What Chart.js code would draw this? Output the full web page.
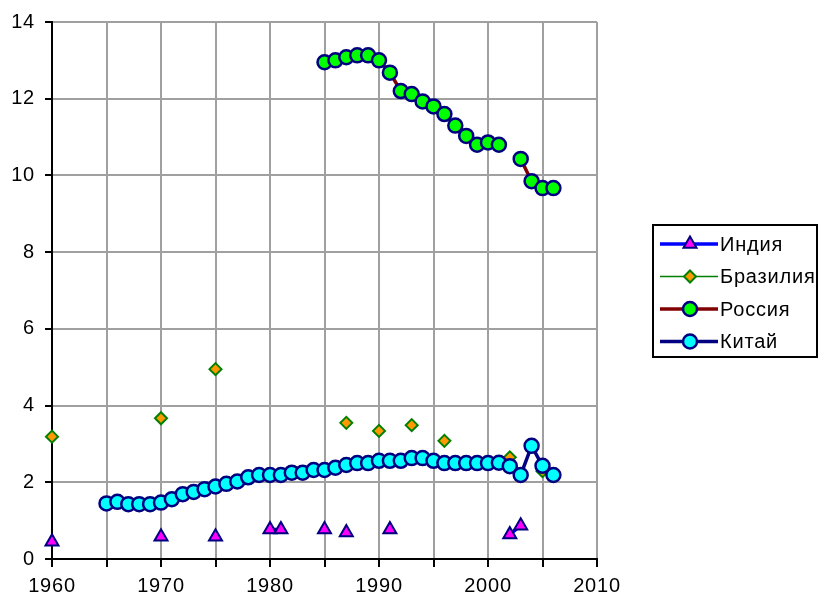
<!DOCTYPE html>
<html>
<head>
<meta charset="utf-8">
<script src="https://cdn.jsdelivr.net/npm/chart.js@4.4.1/dist/chart.umd.min.js"></script>
<style>
  body { margin: 0; background: #fff; }
  canvas { display: block; }
</style>
</head>
<body>
<canvas id="chart" width="820" height="596"></canvas>
<script>
// Data
const seriesNames = ['Индия', 'Бразилия', 'Россия', 'Китай'];

const indiaYears = [1960, 1970, 1975, 1980, 1981, 1985, 1987, 1991, 2002, 2003];
const indiaValues = [0.45, 0.58, 0.58, 0.77, 0.77, 0.77, 0.69, 0.77, 0.64, 0.87];

const brazilYears = [1960, 1970, 1975, 1987, 1990, 1993, 1996, 2002, 2005];
const brazilValues = [3.19, 3.67, 4.95, 3.55, 3.34, 3.49, 3.08, 2.65, 2.29];

const russiaYears = [1985, 1986, 1987, 1988, 1989, 1990, 1991, 1992, 1993, 1994, 1995,
  1996, 1997, 1998, 1999, 2000, 2001, 2003, 2004, 2005, 2006];
const russiaValues = [12.95, 13.0, 13.08, 13.13, 13.13, 13.0, 12.68, 12.2, 12.12, 11.93, 11.8,
  11.6, 11.3, 11.03, 10.8, 10.86, 10.8, 10.43, 9.85, 9.67, 9.67];

const chinaYears = [1965, 1966, 1967, 1968, 1969, 1970, 1971, 1972, 1973, 1974, 1975,
  1976, 1977, 1978, 1979, 1980, 1981, 1982, 1983, 1984, 1985, 1986, 1987, 1988, 1989,
  1990, 1991, 1992, 1993, 1994, 1995, 1996, 1997, 1998, 1999, 2000, 2001, 2002, 2003,
  2004, 2005, 2006];
const chinaValues = [1.45, 1.49, 1.43, 1.43, 1.43, 1.47, 1.56, 1.69, 1.75, 1.82, 1.89,
  1.96, 2.02, 2.13, 2.19, 2.19, 2.19, 2.25, 2.25, 2.32, 2.32, 2.38, 2.45, 2.5, 2.5,
  2.56, 2.56, 2.56, 2.63, 2.63, 2.56, 2.5, 2.5, 2.5, 2.5, 2.5, 2.51, 2.42, 2.19,
  2.95, 2.43, 2.19];

const xTicks = { min: 1960, max: 2010, step: 5, labelEvery: 10 };
const yTicks = { min: 0, max: 14, step: 2 };

const FONT = '"Liberation Sans", Arial, sans-serif';

// years that are not next to each other get a null point so no line joins them
function toPoints(years, values) {
  const pts = [];
  years.forEach((yr, i) => {
    if (i > 0 && yr - years[i - 1] > 1) pts.push({ x: yr - 0.5, y: null });
    pts.push({ x: yr, y: values[i] });
  });
  return pts;
}

// the original's text is a bit spaced out
const spacedText = {
  id: 'spacedText',
  beforeDraw(chart) { chart.ctx.letterSpacing = '0.8px'; }
};

// legend with a line sample and marker, like the original
const sampleLegend = {
  id: 'sampleLegend',
  afterDraw(chart) {
    const ctx = chart.ctx;
    ctx.save();
    ctx.strokeStyle = '#000';
    ctx.lineWidth = 2;
    ctx.strokeRect(653, 225, 164, 132);
    chart.data.datasets.forEach((ds, i) => {
      const y = 244 + i * 32.5;
      ctx.beginPath();
      ctx.strokeStyle = ds.borderColor;
      ctx.lineWidth = ds.borderWidth;
      ctx.moveTo(660, y);
      ctx.lineTo(718, y);
      ctx.stroke();
      drawMarker(ctx, ds.pointStyle, 690, y, ds.pointRadius, ds.pointBackgroundColor,
        ds.pointBorderColor, ds.pointBorderWidth);
      ctx.fillStyle = '#000';
      ctx.font = '20px ' + FONT;
      ctx.textBaseline = 'middle';
      ctx.textAlign = 'left';
      ctx.fillText(ds.label, 720, y + 1);
    });
    ctx.restore();
  }
};

function drawMarker(ctx, style, x, y, r, fill, stroke, bw) {
  ctx.beginPath();
  if (style === 'triangle') {
    ctx.moveTo(x, y - r);
    ctx.lineTo(x + r * 0.866, y + r * 0.5);
    ctx.lineTo(x - r * 0.866, y + r * 0.5);
    ctx.closePath();
  } else if (style === 'rectRot') {
    ctx.moveTo(x, y - r);
    ctx.lineTo(x + r, y);
    ctx.lineTo(x, y + r);
    ctx.lineTo(x - r, y);
    ctx.closePath();
  } else {
    ctx.arc(x, y, r, 0, Math.PI * 2);
  }
  ctx.fillStyle = fill;
  ctx.fill();
  ctx.strokeStyle = stroke;
  ctx.lineWidth = bw;
  ctx.stroke();
}

const ctx = document.getElementById('chart').getContext('2d');
const chart = new Chart(ctx, {
  type: 'line',
  data: {
    datasets: [
      {
        label: seriesNames[0],
        data: toPoints(indiaYears, indiaValues),
        borderColor: '#0000ff',
        borderWidth: 3.5,
        pointStyle: 'triangle',
        pointRadius: 7.5,
        pointBackgroundColor: '#ff00ff',
        pointBorderColor: '#000080',
        pointBorderWidth: 2,
        clip: false,
        order: 4
      },
      {
        label: seriesNames[1],
        data: toPoints(brazilYears, brazilValues),
        borderColor: '#008000',
        borderWidth: 1.5,
        pointStyle: 'rectRot',
        pointRadius: 6,
        pointBackgroundColor: '#ff9900',
        pointBorderColor: '#008000',
        pointBorderWidth: 2,
        clip: false,
        order: 3
      },
      {
        label: seriesNames[2],
        data: toPoints(russiaYears, russiaValues),
        borderColor: '#800000',
        borderWidth: 3.5,
        pointStyle: 'circle',
        pointRadius: 7,
        pointBackgroundColor: '#00ff00',
        pointBorderColor: '#000080',
        pointBorderWidth: 2.5,
        clip: false,
        order: 2
      },
      {
        label: seriesNames[3],
        data: toPoints(chinaYears, chinaValues),
        borderColor: '#000080',
        borderWidth: 3.5,
        pointStyle: 'circle',
        pointRadius: 7,
        pointBackgroundColor: '#00ffff',
        pointBorderColor: '#000080',
        pointBorderWidth: 2.5,
        clip: false,
        order: 1
      }
    ]
  },
  options: {
    responsive: false,
    animation: false,
    devicePixelRatio: 1,
    spanGaps: false,
    layout: { padding: { top: 22, right: 223, left: 0, bottom: 0 } },
    scales: {
      x: {
        type: 'linear',
        min: xTicks.min,
        max: xTicks.max,
        afterFit(scale) { scale.height = 37; },
        ticks: {
          stepSize: xTicks.step,
          autoSkip: false,
          maxRotation: 0,
          padding: 7,
          color: '#000',
          font: { family: FONT, size: 20 },
          callback: v => (v % xTicks.labelEvery === 0 ? String(v) : '')
        },
        grid: { color: '#a0a0a0', lineWidth: 2, tickColor: '#000', tickLength: 8 },
        border: { color: '#000', width: 2 }
      },
      y: {
        min: yTicks.min,
        max: yTicks.max,
        afterFit(scale) { scale.width = 52; },
        ticks: {
          stepSize: yTicks.step,
          padding: 10,
          color: '#000',
          font: { family: FONT, size: 20 }
        },
        grid: { color: '#a0a0a0', lineWidth: 2, tickColor: '#000', tickLength: 7 },
        border: { color: '#000', width: 2 }
      }
    },
    plugins: {
      legend: { display: false },
      tooltip: { enabled: false }
    }
  },
  plugins: [spacedText, sampleLegend]
});
</script>
</body>
</html>
